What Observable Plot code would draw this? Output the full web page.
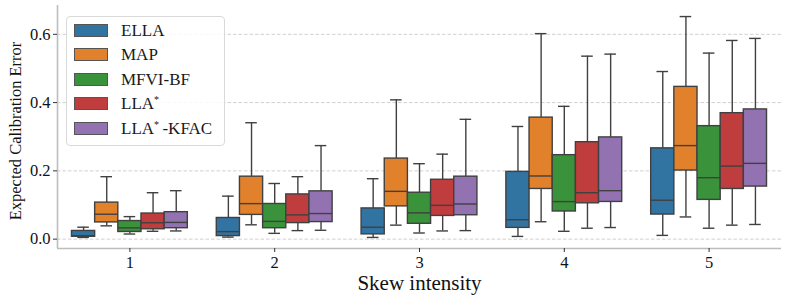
<!DOCTYPE html>
<html>
<head>
<meta charset="utf-8">
<script src="https://cdn.jsdelivr.net/npm/d3@7"></script>
<script src="https://cdn.jsdelivr.net/npm/@observablehq/plot@0.6"></script>
<style>
  body { margin: 0; background: #fff; }
  #wrap { position: relative; width: 788px; height: 303px; font-family: "Liberation Serif", "Times New Roman", serif; }
  #wrap svg, #wrap svg text { font-family: "Liberation Serif", "Times New Roman", serif !important; font-variant: normal !important; }
  #legend { position: absolute; left: 66px; top: 16px; width: 157px; height: 128px; border: 1px solid #d9d9d9; border-radius: 4px; background: rgba(255,255,255,0.85); box-sizing: content-box; font-family: "Liberation Serif", "Times New Roman", serif; }
  .item { position: absolute; left: 7px; height: 16px; line-height: 16px; white-space: nowrap; font-size: 17px; color: #1a1a1a; }
  .patch { display: inline-block; width: 32px; height: 11px; border: 1px solid #555; margin-right: 13px; vertical-align: -1px; }
  sup { font-size: 10px; vertical-align: 6px; line-height: 0; }
</style>
</head>
<body>
<div id="wrap"><div id="legend"></div></div>
<script>
const skews = [1, 2, 3, 4, 5];
const methods = ["ELLA", "MAP", "MFVI-BF", "LLA*", "LLA*-KFAC"];
const colors = ["#3274a1", "#e1812c", "#3a923a", "#c03d3e", "#9372b2"];
// five-number summaries [min, q1, median, q3, max] per skew intensity
const ella = [
  [0.005, 0.007, 0.010, 0.024, 0.035],
  [0.006, 0.009, 0.022, 0.062, 0.126],
  [0.005, 0.014, 0.035, 0.090, 0.177],
  [0.008, 0.033, 0.057, 0.197, 0.330],
  [0.011, 0.072, 0.114, 0.266, 0.491]
];
const map = [
  [0.039, 0.049, 0.073, 0.107, 0.183],
  [0.042, 0.071, 0.104, 0.183, 0.341],
  [0.041, 0.096, 0.140, 0.236, 0.408],
  [0.051, 0.147, 0.185, 0.356, 0.602],
  [0.065, 0.201, 0.274, 0.446, 0.652]
];
const mfvi = [
  [0.015, 0.021, 0.033, 0.053, 0.066],
  [0.017, 0.032, 0.052, 0.103, 0.163],
  [0.018, 0.045, 0.077, 0.136, 0.221],
  [0.023, 0.081, 0.110, 0.246, 0.389],
  [0.032, 0.115, 0.180, 0.331, 0.545]
];
const lla = [
  [0.023, 0.029, 0.048, 0.075, 0.136],
  [0.025, 0.047, 0.071, 0.131, 0.183],
  [0.024, 0.068, 0.099, 0.174, 0.249],
  [0.032, 0.105, 0.136, 0.284, 0.536],
  [0.041, 0.147, 0.214, 0.369, 0.582]
];
const kfac = [
  [0.024, 0.032, 0.049, 0.079, 0.142],
  [0.026, 0.050, 0.075, 0.140, 0.274],
  [0.025, 0.070, 0.103, 0.183, 0.351],
  [0.034, 0.109, 0.142, 0.298, 0.542],
  [0.043, 0.154, 0.222, 0.380, 0.588]
];
const yTicks = [0.0, 0.2, 0.4, 0.6];

const series = [ella, map, mfvi, lla, kfac];
const dodge = 0.8 / methods.length;
const rows = [];
series.forEach((s, mi) => {
  s.forEach((q, si) => {
    rows.push({
      skew: skews[si], method: methods[mi],
      pos: skews[si] + (mi - (methods.length - 1) / 2) * dodge,
      min: q[0], q1: q[1], med: q[2], q3: q[3], max: q[4]
    });
  });
});
const half = dodge / 2, capHalf = dodge / 4;
const yDomain = [-0.0274, 0.6844];
const edge = "#404040";
const serif = "Liberation Serif";

const chart = Plot.plot({
  width: 788, height: 303,
  marginLeft: 57, marginRight: 7, marginTop: 5, marginBottom: 55,
  style: { fontFamily: serif, fontSize: "16px", background: "white", color: "#111" },
  x: { type: "linear", domain: [0.5, 5.5] },
  y: { domain: yDomain },
  color: { domain: methods, range: colors },
  marks: [
    Plot.ruleY(yTicks, { stroke: "#d0d0d0", strokeDasharray: "3.5,2", strokeWidth: 1 }),
    Plot.ruleX(rows, { x: "pos", y1: "min", y2: "q1", stroke: edge, strokeWidth: 1.4 }),
    Plot.ruleX(rows, { x: "pos", y1: "q3", y2: "max", stroke: edge, strokeWidth: 1.4 }),
    Plot.ruleY(rows, { y: "min", x1: d => d.pos - capHalf, x2: d => d.pos + capHalf, stroke: edge, strokeWidth: 1.4 }),
    Plot.ruleY(rows, { y: "max", x1: d => d.pos - capHalf, x2: d => d.pos + capHalf, stroke: edge, strokeWidth: 1.4 }),
    Plot.rect(rows, { x1: d => d.pos - half, x2: d => d.pos + half, y1: "q1", y2: "q3", fill: "method", stroke: edge, strokeWidth: 1.4 }),
    Plot.ruleY(rows, { y: "med", x1: d => d.pos - half, x2: d => d.pos + half, stroke: edge, strokeWidth: 1.4 }),
    Plot.ruleX([0.5], { stroke: "#bdbdbd", strokeWidth: 1.6 }),
    Plot.ruleY([yDomain[0]], { stroke: "#bdbdbd", strokeWidth: 1.6 }),
    Plot.axisX({ ticks: skews, tickFormat: d3.format("d"), tickSize: 4, tickPadding: 4, fontSize: 16.5, fontFamily: serif, label: null, stroke: "#333", fill: "#111" }),
    Plot.axisY({ ticks: yTicks, tickFormat: d3.format(".1f"), tickSize: 4, tickPadding: 3, fontSize: 16.5, fontFamily: serif, label: null, stroke: "#333", fill: "#111" }),
    Plot.text(["Skew intensity"], { frameAnchor: "bottom", lineAnchor: "middle", dy: 35, fontSize: 21, fontFamily: serif, fill: "#111" }),
    Plot.text(["Expected Calibration Error"], { frameAnchor: "left", textAnchor: "middle", lineAnchor: "middle", dx: -42, dy: 4, rotate: -90, fontSize: 16.5, fontFamily: serif, fill: "#111" })
  ]
});
document.getElementById("wrap").prepend(chart);

const legend = document.getElementById("legend");
methods.forEach((m, i) => {
  const it = document.createElement("div");
  it.className = "item";
  it.style.top = (6 + i * 24.4) + "px";
  const p = document.createElement("span");
  p.className = "patch";
  p.style.background = colors[i];
  const t = document.createElement("span");
  t.innerHTML = m.replace("*-", "*&thinsp;-").replace("*", "<sup>*</sup>");
  it.append(p, t);
  legend.append(it);
});
</script>
</body>
</html>
